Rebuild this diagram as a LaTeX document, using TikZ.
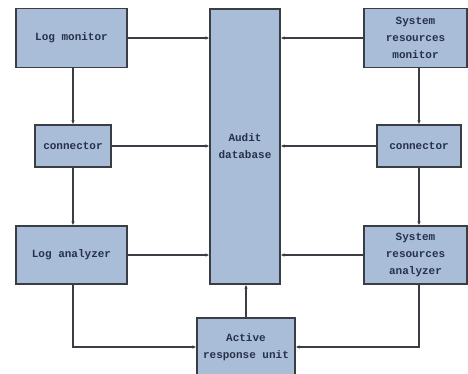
\documentclass[tikz,border=0pt]{standalone}
\usepackage{fontspec}
\setmonofont{Liberation Mono}
\usetikzlibrary{arrows.meta}
\definecolor{boxfill}{HTML}{A9BCD8}
\definecolor{boxline}{HTML}{3A3D44}
\definecolor{txt}{HTML}{26324A}
\tikzset{
  blk/.style={draw=boxline, line width=1.2pt, fill=boxfill, inner sep=0pt, align=center,
    font=\ttfamily\bfseries\fontsize{11}{17}\selectfont, text=txt},
  con/.style={draw=boxline, line width=1.2pt, -{Latex[length=4pt,width=3.5pt]}}
}
\begin{document}
\begin{tikzpicture}[x=1pt,y=-1pt]
\useasboundingbox (0,0) rectangle (468,374);
\fill[white] (0,0) rectangle (468,374);
\node[blk, minimum width=111pt, minimum height=59pt] (logmon) at (71.5,38) {Log monitor};
\node[blk, minimum width=76pt, minimum height=42pt] (conL) at (73,146) {connector};
\node[blk, minimum width=111pt, minimum height=58pt] (loganal) at (71.5,255) {Log analyzer};
\node[blk, minimum width=70pt, minimum height=275pt] (audit) at (245,146.5) {Audit\\database};
\node[blk, minimum width=103pt, minimum height=59pt] (sysmon) at (415.5,38) {System\\resources\\monitor};
\node[blk, minimum width=84pt, minimum height=42pt] (conR) at (419,146) {connector};
\node[blk, minimum width=103pt, minimum height=58pt] (sysanal) at (415.5,255) {System\\resources\\analyzer};
\node[blk, minimum width=98pt, minimum height=58pt] (active) at (246,347) {Active\\response unit};
% horizontal arrows into the audit database
\draw[con] (logmon.east) -- (logmon.east -| audit.west);
\draw[con] (conL.east) -- (conL.east -| audit.west);
\draw[con] (loganal.east) -- (loganal.east -| audit.west);
\draw[con] (sysmon.west) -- (sysmon.west -| audit.east);
\draw[con] (conR.west) -- (conR.west -| audit.east);
\draw[con] (sysanal.west) -- (sysanal.west -| audit.east);
% vertical chains
\draw[con] (conL.north |- logmon.south) -- (conL.north);
\draw[con] (conL.south) -- (conL.south |- loganal.north);
\draw[con] (conR.north |- sysmon.south) -- (conR.north);
\draw[con] (conR.south) -- (conR.south |- sysanal.north);
% to the active response unit
\draw[con] (conL.south |- loganal.south) |- (active.west);
\draw[con] (conR.south |- sysanal.south) |- (active.east);
\draw[con] (active.north) -- (active.north |- audit.south);
\end{tikzpicture}
\end{document}
